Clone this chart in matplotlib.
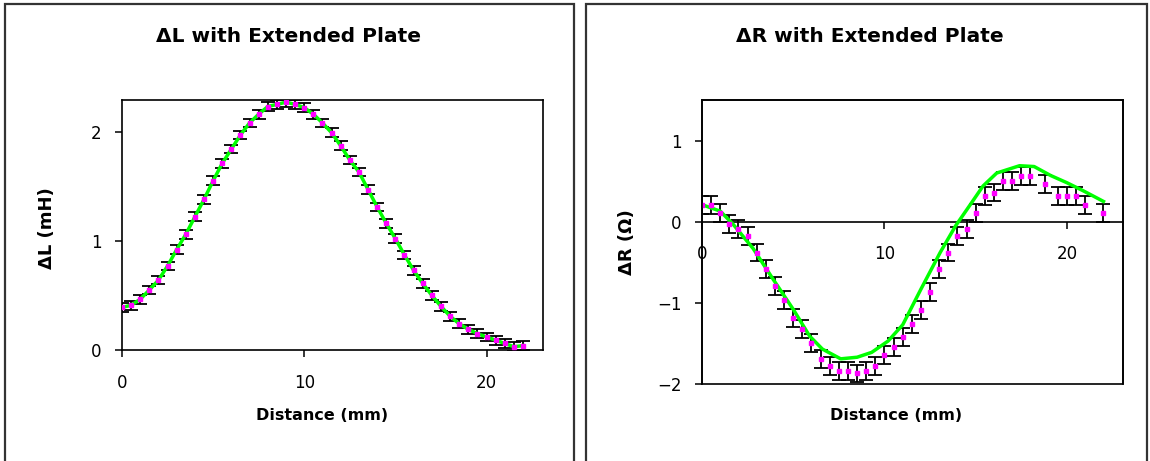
import matplotlib
matplotlib.use('Agg')
import matplotlib.pyplot as plt
from matplotlib.patches import Rectangle
from matplotlib.lines import Line2D

# ---------------- data ----------------
dist_L = [0.0, 0.5, 1.0, 1.5, 2.0, 2.5, 3.0, 3.5, 4.0, 4.5, 5.0, 5.5, 6.0, 6.5,
          7.0, 7.5, 8.0, 8.5, 9.0, 9.5, 10.0, 10.5, 11.0, 11.5, 12.0, 12.5,
          13.0, 13.5, 14.0, 14.5, 15.0, 15.5, 16.0, 16.5, 17.0, 17.5, 18.0,
          18.5, 19.0, 19.5, 20.0, 20.5, 21.0, 21.5, 22.0]
delta_L = [0.39, 0.41, 0.465, 0.55, 0.64, 0.77, 0.92, 1.06, 1.22, 1.38, 1.55,
           1.71, 1.84, 1.97, 2.08, 2.16, 2.23, 2.25, 2.27, 2.25, 2.22, 2.16,
           2.08, 1.99, 1.87, 1.74, 1.63, 1.47, 1.31, 1.16, 1.02, 0.87, 0.73,
           0.61, 0.50, 0.40, 0.31, 0.24, 0.19, 0.15, 0.12, 0.09, 0.06, 0.03,
           0.04]
err_L = 0.04

dist_R = [0.0, 0.5, 1.0, 1.5, 2.0, 2.5, 3.0, 3.5, 4.0, 4.5, 5.0, 5.5, 6.0, 6.5,
          7.0, 7.5, 8.0, 8.5, 9.0, 9.5, 10.0, 10.5, 11.0, 11.5, 12.0, 12.5,
          13.0, 13.5, 14.0, 14.5, 15.0, 15.5, 16.0, 16.5, 17.0, 17.5, 18.0,
          18.8, 19.5, 20.0, 20.5, 21.0, 22.0]
delta_R = [0.21, 0.21, 0.11, -0.03, -0.09, -0.18, -0.38, -0.58, -0.79, -0.97,
           -1.19, -1.32, -1.49, -1.69, -1.78, -1.84, -1.84, -1.87, -1.84,
           -1.78, -1.64, -1.54, -1.42, -1.26, -1.09, -0.87, -0.58, -0.38,
           -0.18, -0.09, 0.11, 0.32, 0.36, 0.50, 0.50, 0.56, 0.56, 0.46, 0.32,
           0.32, 0.32, 0.21, 0.11]
err_R = 0.11

fit_R_x = [0.0, 1.0, 1.7, 2.8, 3.9, 5.0, 5.9, 6.6, 7.6, 8.5, 9.3, 10.2, 11.0,
           12.0, 13.05, 13.9, 14.7, 15.4, 16.15, 17.4, 18.2, 19.1, 20.0, 20.9,
           22.0]
fit_R_y = [0.21, 0.13, -0.03, -0.33, -0.71, -1.08, -1.41, -1.57, -1.69, -1.67,
           -1.61, -1.47, -1.27, -0.83, -0.38, -0.05, 0.21, 0.44, 0.60, 0.69,
           0.68, 0.57, 0.48, 0.38, 0.25]

titles = ["\u0394L with Extended Plate", "\u0394R with Extended Plate"]
ylabels = ["\u0394L (mH)", "\u0394R (\u03a9)"]
xlabel = "Distance (mm)"
xticks = [0, 10, 20]
yticks_L = [0, 1, 2]
yticks_R = [-2, -1, 0, 1]

# ---------------- layout helpers ----------------
W, H = 1150, 461
plt.rcParams['font.family'] = ['DejaVu Sans']
fig = plt.figure(figsize=(W / 100, H / 100), dpi=100)
fig.patch.set_facecolor('white')


def fx(px):
    return px / W


def fy(py):
    return 1 - py / H


def axes_px(x0, y0, x1, y1):
    return fig.add_axes([fx(x0), fy(y1), (x1 - x0) / W, (y1 - y0) / H])


# panel (chart area) borders
for (x0, x1) in [(5, 574), (586, 1147)]:
    fig.add_artist(Line2D([fx(x0), fx(x0), fx(x1), fx(x1)],
                          [fy(470), fy(4), fy(4), fy(470)],
                          transform=fig.transFigure, color='#333333', lw=1.6,
                          solid_joinstyle='miter'))

GREEN = '#00ff00'
MAG = '#ff00ff'
tick_fs = 12
lab_fs = 11.5
ylab_fs = 13
title_fs = 14.5

# ---------------- left chart ----------------
axL = axes_px(122, 100, 543, 350)
axL.errorbar(dist_L, delta_L, yerr=err_L, fmt='none', ecolor='black',
             elinewidth=1.3, capsize=5, capthick=1.3, zorder=2)
axL.plot(dist_L, delta_L, color=GREEN, lw=2.5, zorder=3)
axL.plot(dist_L, delta_L, ls='none', marker='s', ms=2.6, color=MAG, mec=MAG,
         zorder=4)
axL.set_xlim(0, 23.1)
axL.set_ylim(0, 2.29)
axL.set_xticks(xticks)
axL.set_yticks(yticks_L)
for s in axL.spines.values():
    s.set_linewidth(1.2)
    s.set_color('black')
axL.tick_params(axis='both', direction='out', length=5, width=1.1,
                labelsize=tick_fs, colors='black')
axL.tick_params(axis='x', pad=12)
axL.tick_params(axis='y', pad=9.5)

# ---------------- right chart ----------------
axR = axes_px(702, 100, 1123, 384)
axR.errorbar(dist_R, delta_R, yerr=err_R, fmt='none', ecolor='black',
             elinewidth=1.3, capsize=5, capthick=1.3, zorder=2)
axR.plot(fit_R_x, fit_R_y, color=GREEN, lw=2.5, zorder=3)
axR.plot(dist_R, delta_R, ls='none', marker='s', ms=2.6, color=MAG, mec=MAG,
         zorder=4)
axR.set_xlim(0, 23.07)
axR.set_ylim(-2, 1.5)
axR.set_xticks(xticks)
axR.set_yticks(yticks_R)
axR.spines['bottom'].set_position(('data', 0))
for s in axR.spines.values():
    s.set_linewidth(1.2)
    s.set_color('black')
axR.add_patch(Rectangle((0, 0), 1, 1, transform=axR.transAxes, fill=False,
                        lw=1.2, ec='black', clip_on=False, zorder=5))
axR.tick_params(axis='both', direction='out', length=5, width=1.1,
                labelsize=tick_fs, colors='black')
axR.tick_params(axis='x', pad=12)
axR.tick_params(axis='y', pad=9.5)

# ---------------- texts ----------------
fig.text(fx(289), fy(37), titles[0], ha='center', va='center',
         fontsize=title_fs, fontweight='bold')
fig.text(fx(870), fy(37), titles[1], ha='center', va='center',
         fontsize=title_fs, fontweight='bold')
fig.text(fx(322), fy(416), xlabel, ha='center', va='center',
         fontsize=lab_fs, fontweight='bold')
fig.text(fx(896), fy(416), xlabel, ha='center', va='center',
         fontsize=lab_fs, fontweight='bold')
fig.text(fx(47), fy(228), ylabels[0], ha='center', va='center', rotation=90,
         fontsize=ylab_fs, fontweight='bold')
fig.text(fx(627), fy(242), ylabels[1], ha='center', va='center', rotation=90,
         fontsize=ylab_fs, fontweight='bold')

fig.savefig('out.png', dpi=100, facecolor='white')
